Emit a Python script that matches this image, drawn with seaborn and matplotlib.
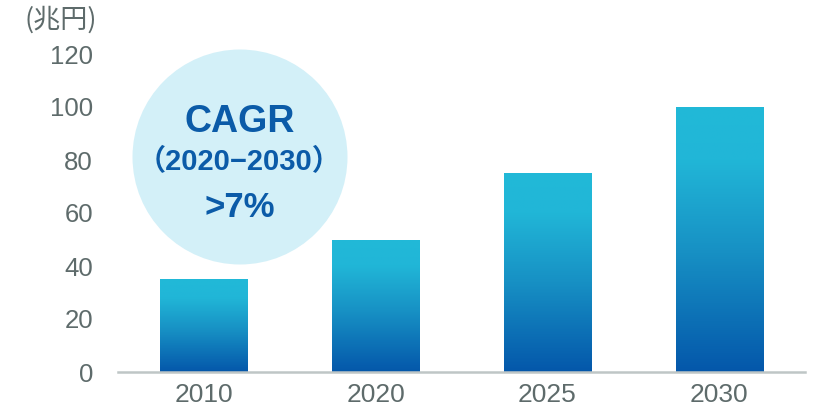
import numpy as np
import pandas as pd
import matplotlib
matplotlib.use("Agg")
import matplotlib.pyplot as plt
from matplotlib.colors import LinearSegmentedColormap
from matplotlib.patches import Circle
import seaborn as sns

# ---- data ----
years = ["2010", "2020", "2025", "2030"]
values = [35, 50, 75, 100]
yticks = [0, 20, 40, 60, 80, 100, 120]
unit_label = "(兆円)"
cagr_lines = ["CAGR", "（2020−2030）", ">7%"]

sns.set_theme(style="white")
plt.rcParams["font.family"] = ["Liberation Sans", "Noto Sans CJK JP", "DejaVu Sans"]

W, H, DPI = 818, 407, 100
fig = plt.figure(figsize=(W / DPI, H / DPI), dpi=DPI)
ax = fig.add_axes([118 / W, 35 / H, (805 - 118) / W, (372 - 54) / H])

df = pd.DataFrame({"year": years, "value": values})
sns.barplot(data=df, x="year", y="value", width=0.507, ax=ax, color="#1A95C7",
            saturation=1)

ax.set_xlim(-0.5, 3.5)
ax.set_ylim(0, 120)
ax.set_yticks(yticks)
ax.set_xlabel("")
ax.set_ylabel("")

cmap = LinearSegmentedColormap.from_list(
    "grad", [(0.0, "#0457AA"), (0.45, "#1790C4"), (0.8, "#21B6D7"), (1.0, "#21B9D8")])
grad = np.linspace(0, 1, 256).reshape(-1, 1)
for p in list(ax.patches):
    x0, y0 = p.get_x(), p.get_y()
    w, h = p.get_width(), p.get_height()
    im = ax.imshow(grad, extent=[x0, x0 + w, y0, y0 + h], origin="lower",
                   aspect="auto", cmap=cmap, zorder=2, interpolation="bicubic")
    im.set_clip_path(p)
    p.set_facecolor("none")
    p.set_edgecolor("none")
ax.set_xlim(-0.5, 3.5)
ax.set_ylim(0, 120)
ax.set_aspect("auto")

for s in ["top", "right", "left"]:
    ax.spines[s].set_visible(False)
ax.spines["bottom"].set_color("#BFC6C6")
ax.spines["bottom"].set_linewidth(1.8)
ax.spines["bottom"].set_zorder(3)
ax.tick_params(axis="y", length=0, labelsize=18.5, labelcolor="#5E6B6B", pad=18)
ax.tick_params(axis="x", length=0, labelsize=19, labelcolor="#5E6B6B", pad=8)

# unit label
fig.text(61 / W, 1 - 20 / H, unit_label, ha="center", va="center",
         fontsize=19.5, color="#5E6B6B", family=["Noto Sans CJK JP", "DejaVu Sans"])

# CAGR bubble
circ = Circle((240 / DPI, (H - 157) / DPI), 1.075, transform=fig.dpi_scale_trans,
              facecolor="#D3F0F8", edgecolor="none", zorder=0)
fig.patches.append(circ)

blue = "#0B5BA8"
fig.text(240 / W, 1 - 132 / H, cagr_lines[0], ha="center", va="baseline",
         fontsize=27, fontweight="bold", color=blue)
fig.text(239 / W, 1 - 170 / H, cagr_lines[1], ha="center", va="baseline",
         fontsize=21, fontweight="bold", color=blue,
         family=["Liberation Sans", "Noto Sans CJK JP"])
fig.text(240 / W, 1 - 217 / H, cagr_lines[2], ha="center", va="baseline",
         fontsize=25, fontweight="bold", color=blue)

ax.set_zorder(1)
ax.patch.set_alpha(0)
fig.savefig("out.png", dpi=DPI)
